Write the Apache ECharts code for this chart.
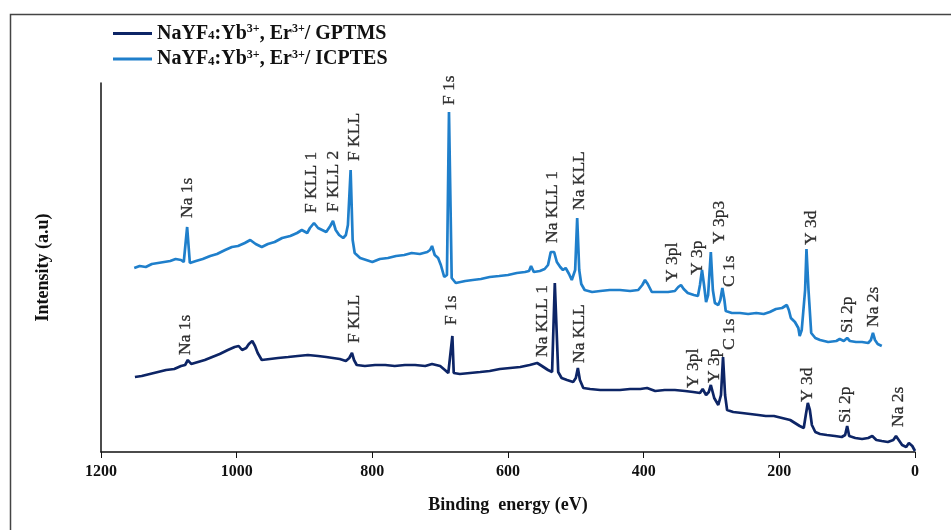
<!DOCTYPE html>
<html>
<head>
<meta charset="utf-8">
<script src="https://cdn.jsdelivr.net/npm/echarts@6/dist/echarts.min.js"></script>
<style>html,body{margin:0;padding:0;background:#fff}#c{width:951px;height:530px}</style>
</head>
<body>
<div id="c"></div>
<script>
// Binding energy (eV) and intensity (a.u.) for each spectrum
const icptesEnergy = [1151,1143,1134,1125,1116,1107,1098,1090,1082,1078,1073,1069,1060,1050,1039,1029,1017,1007,998,988,980,972,963,954,944,933,921,911,904,896,892,886,880,874,868,862,858,854,849,843,839,836,832,829,826,818,809,800,789,777,765,753,742,730,719,715,712,708,703,699,694,690,687,683,677,663,652,640,627,613,600,587,575,569,566,562,553,546,541,537,532,528,523,519,515,510,506,501,498,495,492,487,476,464,450,435,420,408,402,398,394,388,376,364,354,349,345,341,335,326,320,317,314,311,308,305,301,298,295,290,287,284,281,279,270,258,246,234,223,214,205,196,189,186,183,177,172,170,167,162,160,157,153,147,140,128,116,111,105,100,96,87,78,69,65,62,59,55,49];
const icptesIntensity = [184,186,185,188,189,190,191,193,192,190,225,189,191,193,196,198,202,205,206,209,212,208,205,208,210,214,216,219,222,219,224,229,224,222,220,226,231,222,217,214,217,227,282,212,199,194,192,190,193,194,196,197,199,198,200,202,206,197,194,187,175,177,340,174,169,171,172,173,175,176,177,179,180,181,186,180,181,183,187,200,200,190,185,182,184,178,172,182,234,182,168,162,160,161,162,162,161,162,167,172,168,160,160,160,161,165,167,163,159,157,156,167,182,167,150,157,200,162,149,147,152,164,152,141,139,139,138,139,138,140,143,144,147,142,134,130,124,116,122,162,203,162,119,114,112,110,111,113,111,114,111,110,110,109,112,119,112,108,106];

const gptmsEnergy = [1150,1140,1128,1116,1104,1092,1082,1076,1072,1067,1057,1047,1036,1025,1013,1003,997,992,986,982,977,973,969,963,951,939,924,910,895,880,868,858,848,839,834,830,827,823,811,796,781,767,752,737,722,712,700,693,688,682,680,671,656,641,627,612,597,582,568,557,550,541,535,531,526,521,513,504,500,497,494,489,479,464,450,435,420,405,395,383,369,354,339,327,317,313,308,304,301,296,290,286,283,280,277,268,255,243,231,220,208,196,184,177,170,164,161,158,155,152,147,140,130,118,108,103,100,97,88,78,69,63,57,49,40,32,28,24,19,13,9,4,0];
const gptmsIntensity = [75,76,78,80,82,83,86,87,92,88,90,92,95,98,102,105,106,102,104,108,111,106,99,92,93,94,95,96,97,96,95,94,93,91,94,99,92,87,86,87,87,86,87,87,86,88,86,82,79,116,79,78,79,80,81,83,84,85,87,89,86,82,80,169,80,74,72,70,74,84,72,64,63,62,62,62,63,63,64,61,62,62,61,60,59,63,57,60,67,54,47,57,95,57,42,40,39,38,37,36,36,34,32,29,26,24,37,49,42,27,20,18,17,16,15,17,26,16,14,13,14,16,12,11,10,12,16,12,7,5,9,6,1];

// Peak annotations: [energy, intensity at label base, text]
const icptesPeaks = [[1073,234,'Na 1s'],[890,239,'F KLL 1'],[858,240,'F KLL 2'],[826,291,'F KLL'],[686,347,'F 1s'],[535,209,'Na KLL 1'],[495,242,'Na KLL'],[357,170,'Y 3pl'],[321,177,'Y 3p'],[289,208,'Y 3p3'],[273,165,'C 1s'],[153,207,'Y 3d'],[100,119,'Si 2p'],[62,125,'Na 2s']];
const gptmsPeaks = [[1076,97,'Na 1s'],[826,109,'F KLL'],[684,127,'F 1s'],[550,95,'Na KLL 1'],[495,89,'Na KLL'],[327,64,'Y 3pl'],[295,69,'Y 3p'],[273,102,'C 1s'],[158,50,'Y 3d'],[103,29,'Si 2p'],[25,25,'Na 2s']];

const xTicks = [0,200,400,600,800,1000,1200];
const seriesNames = ['NaYF4:Yb3+, Er3+/ GPTMS','NaYF4:Yb3+, Er3+/ ICPTES'];

const zip = (a,b) => a.map((v,i)=>[v,b[i]]);
const serif = '"Liberation Serif","DejaVu Serif",serif';

const chart = echarts.init(document.getElementById('c'));
const peakLabel = {
  show: true, position: [0,0], rotate: 90, align: 'left', verticalAlign: 'middle',
  fontFamily: serif, fontSize: 17.5, color: '#000', textBorderColor: '#000', textBorderWidth: 0.3,
  formatter: p => p.data[2]
};
chart.setOption({
  animation: false,
  graphic: [{type:'rect', left: 8, top: 12, shape:{width:1000,height:600}, style:{fill:'none', stroke:'#444', lineWidth:1.5}, z: -1}],
  grid: {left: 101, right: 36, top: 83, bottom: 78},
  legend: {
    left: 113, top: 23, padding: 0, orient: 'vertical', itemGap: 5,
    itemWidth: 39, itemHeight: 3, icon: 'rect',
    data: seriesNames,
    formatter: n => n.replace('NaYF4','NaYF{sub|4}').replace(/3\+/g,'{sup|3+}'),
    textStyle: {
      fontFamily: serif, fontWeight: 'bold', fontSize: 20, color: '#111',
      rich: {
        sub: {fontFamily: serif, fontWeight:'bold', fontSize: 13, color:'#111', padding:[5,0,0,0]},
        sup: {fontFamily: serif, fontWeight:'bold', fontSize: 12, color:'#111', verticalAlign:'top', padding:[0,0,9,0]}
      }
    }
  },
  xAxis: {
    type: 'value', inverse: true, min: 0, max: 1200, interval: 200,
    name: 'Binding  energy (eV)', nameLocation: 'middle', nameGap: 44,
    nameTextStyle: {fontFamily: serif, fontWeight:'bold', fontSize: 18, color:'#111'},
    axisLine: {lineStyle:{color:'#111', width:1.5}},
    axisTick: {show:true, length: 6, lineStyle:{color:'#111'}},
    axisLabel: {fontFamily: serif, fontWeight:'bold', fontSize: 16, color:'#111', margin: 12,
      formatter: v => xTicks.includes(v) ? String(v) : ''},
    splitLine: {show:false}
  },
  yAxis: {
    type: 'value', min: 0, max: 369, position: 'left',
    name: 'Intensity (a.u)', nameLocation: 'middle', nameGap: 49, nameRotate: 90,
    nameTextStyle: {fontFamily: serif, fontWeight:'bold', fontSize: 18, color:'#111'},
    axisLine: {show:true, onZero:false, lineStyle:{color:'#111', width:1.5}},
    axisTick: {show:false}, axisLabel: {show:false}, splitLine: {show:false}
  },
  series: [
    {name: seriesNames[0], type:'line', data: zip(gptmsEnergy, gptmsIntensity), showSymbol:false, symbol:'none',
     lineStyle:{color:'#0d2566', width:2.7}, itemStyle:{color:'#0d2566'}},
    {name: seriesNames[1], type:'line', data: zip(icptesEnergy, icptesIntensity), showSymbol:false, symbol:'none',
     lineStyle:{color:'#1f7fcb', width:2.7}, itemStyle:{color:'#1f7fcb'}},
    {type:'scatter', data: icptesPeaks, symbolSize: 0, label: peakLabel, silent: true},
    {type:'scatter', data: gptmsPeaks, symbolSize: 0, label: peakLabel, silent: true}
  ]
});
</script>
</body>
</html>
